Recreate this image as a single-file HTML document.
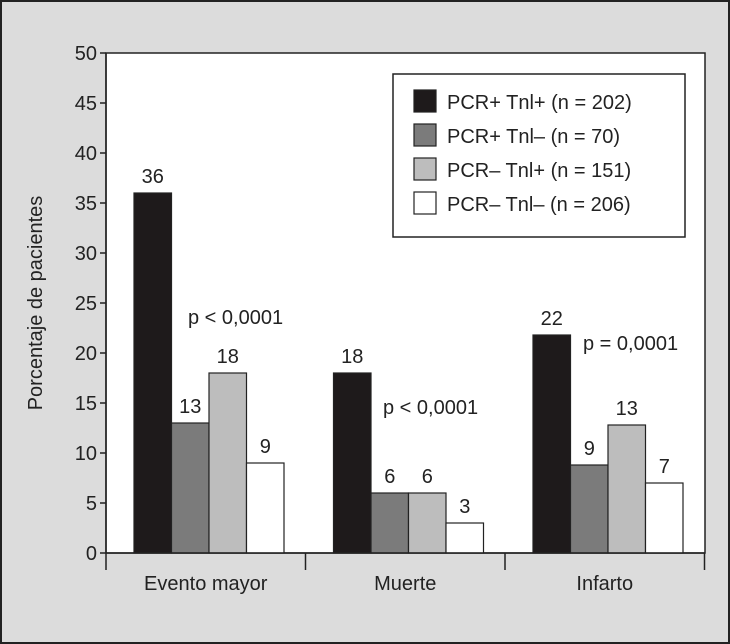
<!DOCTYPE html>
<html><head><meta charset="utf-8"><style>
body{margin:0;background:#dcdcdc}
svg{display:block}
text{font-family:"Liberation Sans",sans-serif;fill:#222}
</style></head><body>
<svg width="730" height="644" id="chart">
<rect x="1" y="1" width="728" height="642" fill="#dcdcdc" stroke="#222" stroke-width="2"/>
<rect x="106" y="53" width="599" height="500" fill="#fff" stroke="#222" stroke-width="1.5"/>
<g id="bars"></g><g id="axes"></g>
<text x="42" y="303" font-size="20" text-anchor="middle" transform="rotate(-90 42 303)">Porcentaje de pacientes</text>
<text x="188" y="324" font-size="20">p &lt; 0,0001</text>
<text x="383" y="414" font-size="20">p &lt; 0,0001</text>
<text x="583" y="350" font-size="20">p = 0,0001</text>
<g>
<rect x="393" y="74" width="292" height="163" fill="#fff" stroke="#222" stroke-width="1.5"/>
<g id="legend-items"></g>
</g>
</svg>
<script>
const categories=["Evento mayor","Muerte","Infarto"];
const seriesNames=["PCR+ Tnl+ (n = 202)","PCR+ Tnl\u2013 (n = 70)","PCR\u2013 Tnl+ (n = 151)","PCR\u2013 Tnl\u2013 (n = 206)"];
const s1=[36,18,21.8];
const s2=[13,6,8.8];
const s3=[18,6,12.8];
const s4=[9,3,7];
const labels1=["36","18","22"];
const labels2=["13","6","9"];
const labels3=["18","6","13"];
const labels4=["9","3","7"];
const yTicks=[0,5,10,15,20,25,30,35,40,45,50];
const colors=["#1e1a1b","#7b7b7b","#bdbdbd","#ffffff"];
const NS="http://www.w3.org/2000/svg";
const x0=106,cw=199.5,y0=553,yMax=50,ph=500,bw=37.5,off=28;
const y=v=>y0-v/yMax*ph;
const series=[s1,s2,s3,s4],labs=[labels1,labels2,labels3,labels4];
function mk(t,a,p){const e=document.createElementNS(NS,t);for(const k in a)e.setAttribute(k,a[k]);p.appendChild(e);return e;}
const bars=document.getElementById('bars'),axes=document.getElementById('axes');
series.forEach((s,si)=>s.forEach((v,ci)=>{
 const bx=x0+ci*cw+off+si*bw;
 const r=mk('rect',{x:bx,y:y(v),width:bw,height:y0-y(v),fill:colors[si],stroke:'#222','stroke-width':1.2},bars);
 
 
 const t=mk('text',{x:bx+bw/2,y:y(v)-10,'font-size':20,'text-anchor':'middle'},bars);t.textContent=labs[si][ci];
 
 
}));
mk('line',{x1:x0,y1:53,x2:x0,y2:y0,stroke:'#222','stroke-width':1.5},axes);
mk('line',{x1:x0,y1:y0,x2:x0+3*cw,y2:y0,stroke:'#222','stroke-width':1.5},axes);
yTicks.forEach(v=>{
 mk('line',{x1:x0-6,y1:y(v),x2:x0,y2:y(v),stroke:'#222','stroke-width':1.5},axes);
 const t=mk('text',{x:x0-9,y:y(v)+7,'font-size':20,'text-anchor':'end'},axes);t.textContent=v;
 
 
});
for(let i=0;i<=3;i++)mk('line',{x1:x0+i*cw,y1:y0,x2:x0+i*cw,y2:y0+17,stroke:'#222','stroke-width':1.5},axes);
categories.forEach((c,i)=>{const t=mk('text',{x:x0+i*cw+cw/2,y:590,'font-size':20,'text-anchor':'middle'},axes);t.textContent=c;
 
 });
const li=document.getElementById('legend-items');
seriesNames.forEach((n,i)=>{
 const g=mk('g',{},li);
 
 
 mk('rect',{x:414,y:90+i*34,width:22,height:22,fill:colors[i],stroke:'#222','stroke-width':1.2},g);
 const t=mk('text',{x:447,y:109+i*34,'font-size':20},g);t.textContent=n;
});
</script>
</body></html>
